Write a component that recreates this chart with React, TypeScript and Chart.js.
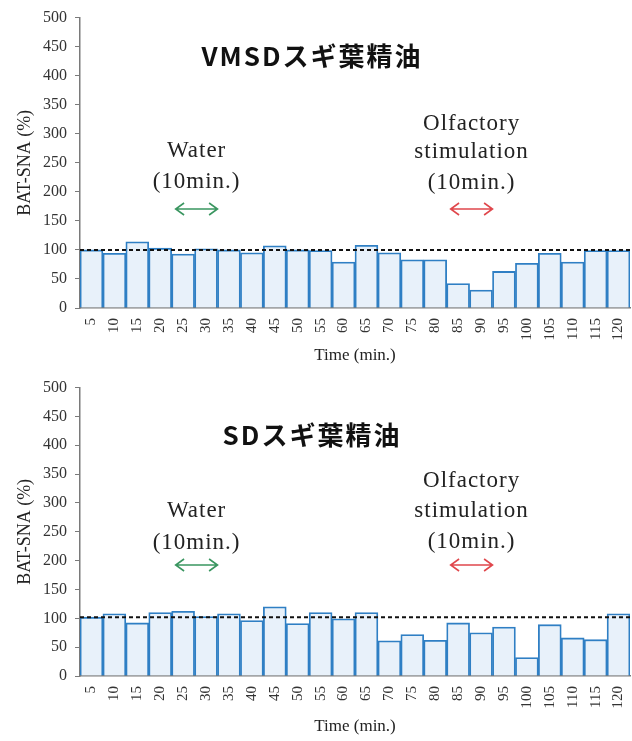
import React, { useEffect, useRef } from 'react';
import { Chart, registerables } from 'chart.js';

Chart.register(...registerables);

// ---------- data ----------
const timeLabels = ['5', '10', '15', '20', '25', '30', '35', '40', '45', '50', '55', '60', '65', '70', '75', '80', '85', '90', '95', '100', '105', '110', '115', '120'];
const vmsdValues = [100, 94, 114, 103, 93, 102, 100, 95, 107, 100, 99, 79, 108, 95, 83, 83, 42, 31, 63, 77, 94, 79, 99, 99];
const sdValues = [102, 108, 92, 110, 112, 103, 108, 96, 120, 91, 110, 99, 110, 61, 72, 62, 92, 75, 85, 32, 89, 66, 63, 108];
const vmsdReference = 100;
const sdReference = 102;
const waterPeriod = ['25', '30'];
const stimulationPeriod = ['85', '90'];
const yMin = 0;
const yMax = 500;
const yStep = 50;

const SERIF = '"Liberation Serif", "Times New Roman", serif';
const SANS = '"Noto Sans CJK JP", "Noto Sans", sans-serif';

type PanelSpec = {
  title: string;
  values: number[];
  reference: number;
  height: number;
  plotTop: number;
  xAxisHeight: number;
  titleBaseline: number;
  waterLines: number[];
  stimLines: number[];
  arrowY: number;
};

function drawArrow(ctx: CanvasRenderingContext2D, x1: number, x2: number, y: number, color: string) {
  const h = 6;
  ctx.save();
  ctx.strokeStyle = color;
  ctx.lineWidth = 1.6;
  ctx.setLineDash([]);
  ctx.beginPath();
  ctx.moveTo(x1, y);
  ctx.lineTo(x2, y);
  ctx.moveTo(x1 + h * 1.4, y - h);
  ctx.lineTo(x1, y);
  ctx.lineTo(x1 + h * 1.4, y + h);
  ctx.moveTo(x2 - h * 1.4, y - h);
  ctx.lineTo(x2, y);
  ctx.lineTo(x2 - h * 1.4, y + h);
  ctx.stroke();
  ctx.restore();
}

function makeOverlay(spec: PanelSpec) {
  return {
    id: 'overlay',
    afterDatasetsDraw(chart: any) {
      const { ctx, chartArea, scales } = chart;
      const xs = scales.x;
      const ys = scales.y;
      // reference dashed line
      const yRef = ys.getPixelForValue(spec.reference);
      ctx.save();
      ctx.strokeStyle = '#111';
      ctx.lineWidth = 2;
      ctx.setLineDash([4, 3]);
      ctx.beginPath();
      ctx.moveTo(chartArea.left, yRef);
      ctx.lineTo(chartArea.right, yRef);
      ctx.stroke();
      ctx.restore();

      const half = (chartArea.right - chartArea.left) / timeLabels.length / 2;
      const span = (period: string[]) => {
        const a = xs.getPixelForValue(timeLabels.indexOf(period[0])) - half + 4;
        const b = xs.getPixelForValue(timeLabels.indexOf(period[1])) + half;
        return [a, b];
      };
      const [wa, wb] = span(waterPeriod);
      const [sa, sb] = span(stimulationPeriod);
      const wc = (wa + wb) / 2;
      const sc = (sa + sb) / 2;

      ctx.save();
      // title
      ctx.fillStyle = '#111';
      ctx.textAlign = 'center';
      ctx.textBaseline = 'alphabetic';
      (ctx as any).letterSpacing = '2px';
      ctx.font = `bold 26px ${SANS}`;
      ctx.fillText(spec.title, (chartArea.left + chartArea.right) / 2 - 43, spec.titleBaseline);

      // annotations
      (ctx as any).letterSpacing = '1px';
      ctx.font = `23px ${SERIF}`;
      ctx.fillStyle = '#222';
      ctx.fillText('Water', wc, spec.waterLines[0]);
      ctx.fillText('(10min.)', wc, spec.waterLines[1]);
      ctx.fillText('Olfactory', sc, spec.stimLines[0]);
      ctx.fillText('stimulation', sc, spec.stimLines[1]);
      ctx.fillText('(10min.)', sc, spec.stimLines[2]);
      ctx.restore();

      drawArrow(ctx, wa, wb, spec.arrowY, '#3a9660');
      drawArrow(ctx, sa, sb, spec.arrowY, '#e0474c');
    },
  };
}

function ChartPanel({ spec }: { spec: PanelSpec }) {
  const ref = useRef<HTMLCanvasElement | null>(null);
  useEffect(() => {
    if (!ref.current) return;
    const chart = new Chart(ref.current, {
      type: 'bar',
      data: {
        labels: timeLabels,
        datasets: [
          {
            data: spec.values,
            backgroundColor: '#e8f1fa',
            borderColor: '#2f7fc4',
            borderWidth: 1.8,
            barPercentage: 1,
            categoryPercentage: 1,
          },
        ],
      },
      options: {
        animation: false,
        responsive: false,
        layout: { padding: { top: spec.plotTop, right: 2, left: 0, bottom: 0 } },
        plugins: {
          legend: { display: false },
          tooltip: { enabled: false },
          title: { display: false },
        },
        scales: {
          x: {
            grid: { display: false, drawTicks: false },
            border: { display: true, color: '#7a7a7a', width: 1.5 },
            ticks: {
              minRotation: 90,
              maxRotation: 90,
              autoSkip: false,
              padding: 10,
              color: '#333',
              font: { family: SERIF, size: 15 },
            },
            title: {
              display: true,
              text: 'Time (min.)',
              color: '#222',
              font: { family: SERIF, size: 17 },
              padding: { top: 0, bottom: 4 },
            },
            afterFit: (s: any) => {
              s.height = spec.xAxisHeight;
              s.paddingLeft = 0;
              s.paddingRight = 0;
            },
          },
          y: {
            min: yMin,
            max: yMax,
            ticks: {
              stepSize: yStep,
              padding: 8,
              color: '#333',
              font: { family: SERIF, size: 16 },
            },
            grid: { drawOnChartArea: false, drawTicks: true, tickLength: 5, color: '#7a7a7a' },
            border: { display: true, color: '#7a7a7a', width: 1.5 },
            title: {
              display: true,
              text: 'BAT-SNA (%)',
              color: '#222',
              font: { family: SERIF, size: 18 },
              padding: { top: 14, bottom: 0 },
            },
            afterFit: (s: any) => {
              s.width = 80;
            },
          },
        },
      },
      plugins: [makeOverlay(spec)],
    } as any);
    return () => chart.destroy();
  }, [spec]);
  return <canvas ref={ref} width={632} height={spec.height} style={{ display: 'block', width: 632, height: spec.height }} />;
}

const topSpec: PanelSpec = {
  title: 'VMSDスギ葉精油',
  values: vmsdValues,
  reference: vmsdReference,
  height: 370,
  plotTop: 16,
  xAxisHeight: 62,
  titleBaseline: 66,
  waterLines: [157, 188],
  stimLines: [130, 158, 189],
  arrowY: 209,
};

const bottomSpec: PanelSpec = {
  title: 'SDスギ葉精油',
  values: sdValues,
  reference: sdReference,
  height: 371,
  plotTop: 15,
  xAxisHeight: 65,
  titleBaseline: 75,
  waterLines: [147, 179],
  stimLines: [117, 147, 178],
  arrowY: 195,
};

export default function App() {
  return (
    <div style={{ position: 'absolute', left: 0, top: 0, width: 632, height: 741, background: '#fff', overflow: 'hidden' }}>
      <ChartPanel spec={topSpec} />
      <ChartPanel spec={bottomSpec} />
    </div>
  );
}
